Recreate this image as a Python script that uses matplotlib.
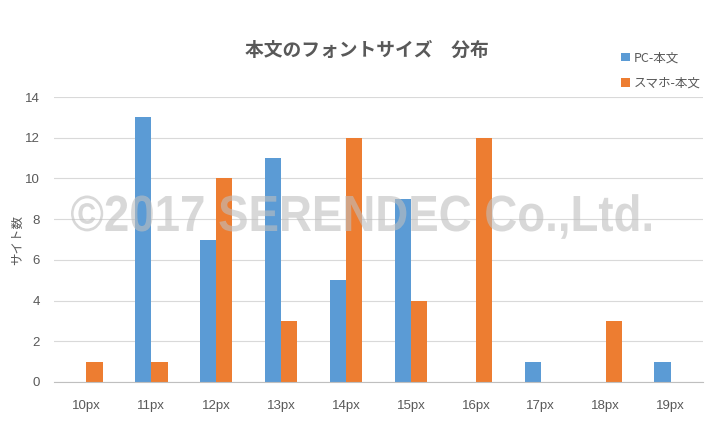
import matplotlib
matplotlib.use("Agg")
import matplotlib.pyplot as plt
import numpy as np
from matplotlib.textpath import TextPath
from matplotlib.font_manager import FontProperties
from matplotlib.patches import PathPatch
from matplotlib.transforms import Affine2D, IdentityTransform

categories = ["10px", "11px", "12px", "13px", "14px", "15px", "16px", "17px", "18px", "19px"]
pc_values = [0, 13, 7, 11, 5, 9, 0, 1, 0, 1]
sp_values = [1, 1, 10, 3, 12, 4, 12, 0, 3, 0]
series_names = ["PC-本文", "スマホ-本文"]
y_ticks = [0, 2, 4, 6, 8, 10, 12, 14]
watermark = "©2017 SERENDEC Co.,Ltd."

plt.rcParams['font.family'] = ['Noto Sans CJK JP', 'DejaVu Sans']

blue = "#5b9bd5"
orange = "#ed7d31"
text_gray = "#595959"

W, H = 718, 422
fig = plt.figure(figsize=(W/100, H/100), dpi=100)
ax = fig.add_axes([54/W, 1 - 382/H, 649/W, (382 - 97)/H])

x = np.arange(len(categories))
w = 0.25
ax.bar(x - w/2, pc_values, width=w, color=blue, label=series_names[0], zorder=3)
ax.bar(x + w/2, sp_values, width=w, color=orange, label=series_names[1], zorder=3)

ax.set_xlim(-0.5, len(categories) - 0.5)
ax.set_ylim(0, 14)
ax.set_yticks(y_ticks)
ax.set_xticks(x)
ax.set_xticklabels(categories)
ax.tick_params(axis='both', length=0, colors=text_gray, labelsize=9.5)
ax.tick_params(axis='x', pad=13)
ax.tick_params(axis='y', pad=10)
for lab in ax.get_xticklabels() + ax.get_yticklabels():
    lab.set_family(['Liberation Sans', 'DejaVu Sans'])
ax.grid(axis='y', color="#d9d9d9", linewidth=0.8, zorder=0)
for s in ["top", "right", "left"]:
    ax.spines[s].set_visible(False)
ax.spines["bottom"].set_color("#bfbfbf")
ax.spines["bottom"].set_zorder(4)

fig.text(18/W, 1 - 240/H, "サイト数", rotation=90, ha='center', va='center',
         color=text_gray, fontsize=9)

fig.text(367/W, 1 - 50/H, "本文のフォントサイズ　分布", ha='center', va='center',
         fontsize=13.5, fontweight='bold', color=text_gray)

fig.legend(loc='upper left', bbox_to_anchor=(610/W, 1 - 40/H), frameon=False,
           fontsize=9, handlelength=0.7, handleheight=0.7, handletextpad=0.3,
           labelspacing=1.0, labelcolor=text_gray)

# watermark, horizontally condensed bold text
prop = FontProperties(family=['Liberation Sans', 'DejaVu Sans'], weight='bold')
tp = TextPath((0, 0), watermark, size=100, prop=prop)
cap = TextPath((0, 0), "E", size=100, prop=prop).get_extents()
ext = tp.get_extents()
left_px, right_px, cap_top_px, base_px = 71, 651, 196, 231
sx = (right_px - left_px) / ext.width
sy = (base_px - cap_top_px) / cap.y1
tr = Affine2D().translate(-ext.x0, 0).scale(sx, sy).translate(left_px, H - base_px)
fig.add_artist(PathPatch(tp, transform=tr + IdentityTransform(), facecolor="#bfbfbf",
                         edgecolor='none', alpha=0.6, zorder=10))

fig.savefig("out.png", dpi=100)
